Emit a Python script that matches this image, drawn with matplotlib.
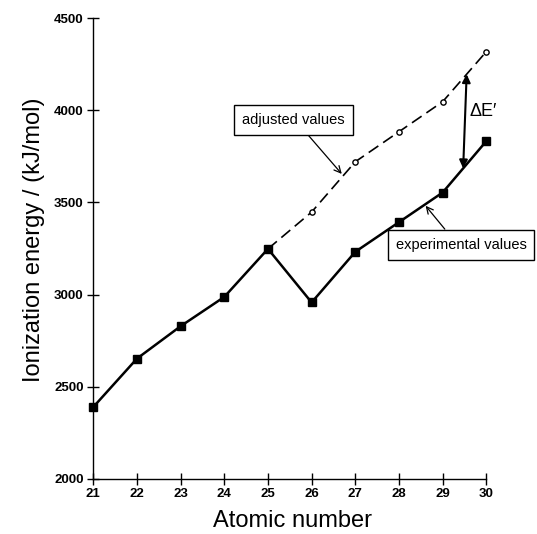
import matplotlib
matplotlib.use("Agg")
import matplotlib.pyplot as plt
import numpy as np

atomic_number = [21, 22, 23, 24, 25, 26, 27, 28, 29, 30]
experimental = [2389, 2652, 2828, 2987, 3248, 2957, 3232, 3393, 3554, 3833]
adj_numbers = [25, 26, 27, 28, 29, 30]
adjusted = [3248, 3448, 3721, 3884, 4047, 4319]
x_ticks = [21, 22, 23, 24, 25, 26, 27, 28, 29, 30]
y_ticks = [2000, 2500, 3000, 3500, 4000, 4500]

plt.rcParams['font.family'] = ['Liberation Sans', 'DejaVu Sans']

fig = plt.figure(figsize=(5.37, 5.34), dpi=100)
ax = fig.add_axes([0.1737, 0.1036, 0.7319, 0.8621])

ax.plot(adj_numbers, adjusted, color='black', lw=1.2, ls=(0, (7, 3.5)),
        marker='o', markersize=3.8, markerfacecolor='white', markeredgecolor='black',
        markeredgewidth=1.0, markevery=list(range(1, len(adj_numbers))),
        zorder=2, clip_on=False)
ax.plot(atomic_number, experimental, color='black', lw=1.8, marker='s',
        markersize=6, markerfacecolor='black', markeredgecolor='black',
        zorder=3, clip_on=False)

ax.set_xlim(21, 30)
ax.set_ylim(2000, 4500)
ax.set_xticks(x_ticks)
ax.set_yticks(y_ticks)
for lab in ax.get_xticklabels() + ax.get_yticklabels():
    lab.set_fontweight('bold')
ax.tick_params(axis='both', direction='inout', length=8, width=1, labelsize=9.5, pad=3)
ax.spines['top'].set_visible(False)
ax.spines['right'].set_visible(False)
ax.spines['left'].set_linewidth(1)
ax.spines['bottom'].set_linewidth(1)
ax.patch.set_alpha(0)

ax.set_xlabel('Atomic number', fontsize=17, labelpad=7)
ax.xaxis.set_label_coords(0.508, -0.067)
ax.set_ylabel('Ionization energy / (kJ/mol)', fontsize=17)
ax.yaxis.set_label_coords(-0.122, 0.518)

# Delta E double arrow
x_top, x_bot = 29.55, 29.47
top = np.interp(x_top, adj_numbers, adjusted)
bot = np.interp(x_bot, atomic_number, experimental)
ax.annotate('', xy=(x_top, top), xytext=(x_bot, bot),
            arrowprops=dict(arrowstyle='<|-|>', color='black', lw=1.5,
                            mutation_scale=12, shrinkA=0, shrinkB=0))
ax.text(29.62, 3995, "ΔE′", fontsize=13, ha='left', va='center')

# adjusted values label
ax.annotate('adjusted values', xy=(26.69, 3655), xytext=(25.58, 3949),
            fontsize=10.5, ha='center', va='center',
            bbox=dict(boxstyle='square,pad=0.55', fc='white', ec='black', lw=1),
            arrowprops=dict(arrowstyle='->', color='black', lw=0.9,
                            shrinkA=0, shrinkB=0, mutation_scale=12,
                            relpos=(0.575, 0.0)))

# experimental values label
ax.annotate('experimental values', xy=(28.61, 3482), xytext=(29.42, 3271),
            fontsize=10.5, ha='center', va='center', annotation_clip=False,
            bbox=dict(boxstyle='square,pad=0.55', fc='white', ec='black', lw=1),
            arrowprops=dict(arrowstyle='->', color='black', lw=0.9,
                            shrinkA=0, shrinkB=0, mutation_scale=12,
                            relpos=(0.43, 1.0)))

fig.savefig('out.png', dpi=100)
